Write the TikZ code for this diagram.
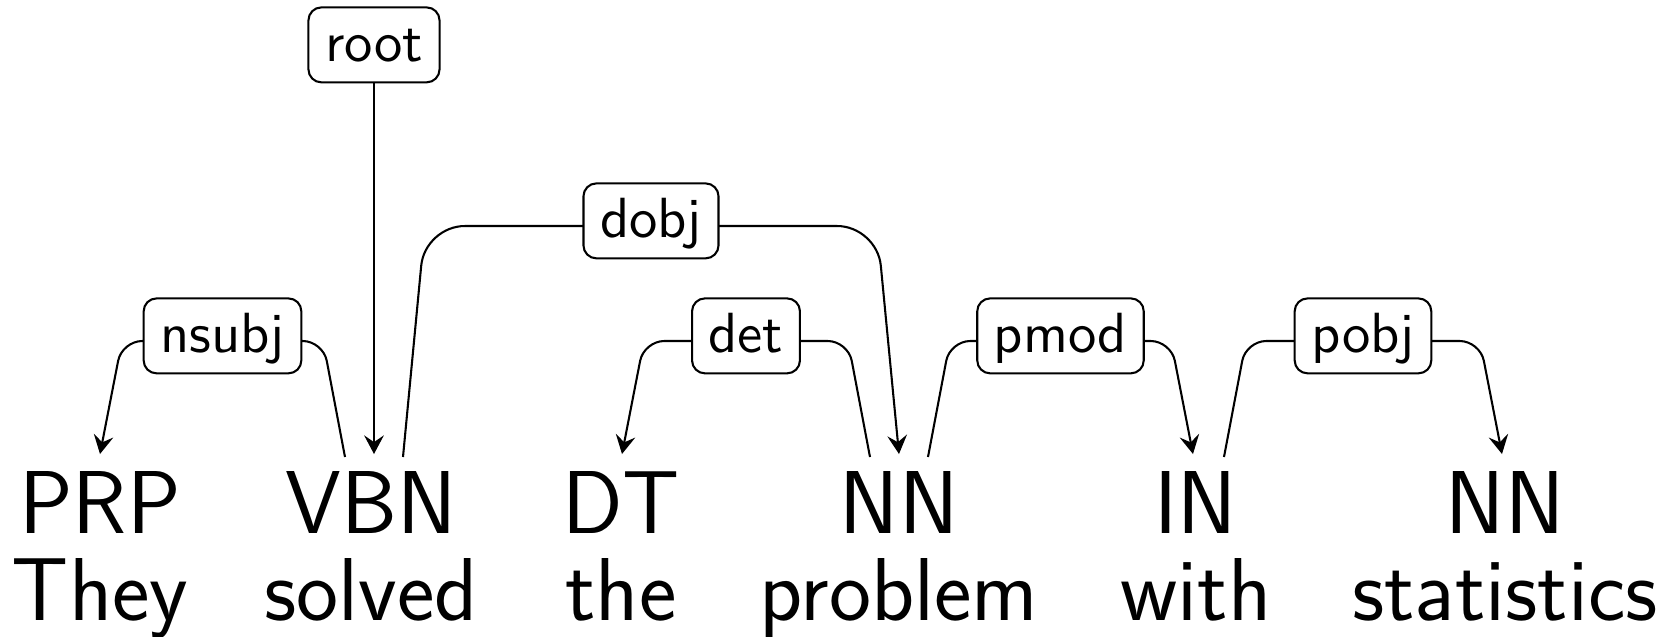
\documentclass[tikz,border=0pt]{standalone}
\usetikzlibrary{arrows.meta}
\begin{document}
\begin{tikzpicture}[x=0.19342pt,y=-0.19342pt,
  tag/.style={anchor=base,inner sep=0pt,font=\fontsize{17.28}{20}\selectfont\sffamily},
  lab/.style={draw,fill=white,rounded corners=2.5pt,inner xsep=3.2pt,inner ysep=2pt,
    text height=8.4pt,text depth=2.1pt,anchor=mid,font=\fontsize{10.95}{13}\selectfont\sffamily},
  dep/.style={line width=0.4pt},
  arr/.style={dep,-{Stealth[length=3.6pt,width=3.8pt,inset=1.3pt]}}]
\useasboundingbox (0,0) rectangle (1674,636);
% tags
\node[tag] (t1) at (100,533) {PRP};
\node[tag] (t2) at (371,533) {VBN};
\node[tag] (t3) at (621,533) {DT};
\node[tag] (t4) at (899,533) {NN};
\node[tag] (t5) at (1196,533) {IN};
\node[tag] (t6) at (1505,533) {NN};
% words
\node[tag] (w1) at (100,620) {They};
\node[tag] (w2) at (371,620) {solved};
\node[tag] (w3) at (621,620) {the};
\node[tag] (w4) at (899,620) {problem};
\node[tag] (w5) at (1196,620) {with};
\node[tag] (w6) at (1505,620) {statistics};
% edge anchor points on the words
\coordinate (t1in) at (100,454);
\coordinate (t2L) at (345,457);
\coordinate (t2in) at (374,454);
\coordinate (t2R) at (403,457);
\coordinate (t3in) at (622,454);
\coordinate (t4L) at (870,457);
\coordinate (t4in) at (899,454);
\coordinate (t4R) at (928,457);
\coordinate (t5in) at (1193,454);
\coordinate (t5R) at (1224,457);
\coordinate (t6in) at (1502,454);
% root
\node[lab] (Lroot) at (374,50) {root};
\draw[arr] (Lroot) -- (t2in);
% dobj
\draw[arr,rounded corners=7.7pt] (t2R) -- (425,226) -- node[lab] (Ldobj) {dobj} (877,226) -- (t4in);
% nsubj
\draw[arr,rounded corners=3.9pt] (t2L) -- (323,341) -- node[lab] (Lnsubj) {nsubj} (122,341) -- (t1in);
% det
\draw[arr,rounded corners=3.9pt] (t4L) -- (848,341) -- node[lab] (Ldet) {det} (644,341) -- (t3in);
% pmod
\draw[arr,rounded corners=3.9pt] (t4R) -- (950,341) -- node[lab] (Lpmod) {pmod} (1171,341) -- (t5in);
% pobj
\draw[arr,rounded corners=3.9pt] (t5R) -- (1246,341) -- node[lab] (Lpobj) {pobj} (1480,341) -- (t6in);
\end{tikzpicture}
\end{document}
